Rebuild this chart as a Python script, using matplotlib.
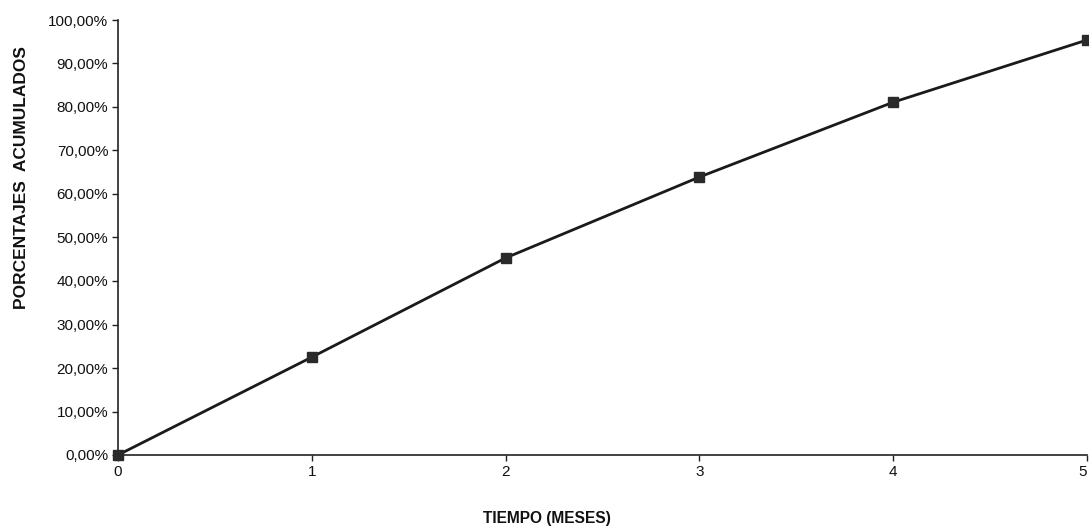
import matplotlib
matplotlib.use("Agg")
import matplotlib.pyplot as plt
from matplotlib.ticker import FuncFormatter

meses = [0, 1, 2, 3, 4, 5]
porcentajes = [0.0, 22.5, 45.3, 63.9, 81.1, 95.4]
y_ticks = [0, 10, 20, 30, 40, 50, 60, 70, 80, 90, 100]
x_ticks = [0, 1, 2, 3, 4, 5]

plt.rcParams['font.family'] = ['Liberation Sans', 'DejaVu Sans']

fig = plt.figure(figsize=(10.89, 5.32), dpi=100)
ax = fig.add_axes([118/1089, 1 - 455/532, (1087 - 118)/1089, (455 - 20)/532])

ax.plot(meses, porcentajes, color='#1a1a1a', lw=2.0, marker='s', ms=7.5,
        mfc='#2a2a2a', mec='#2a2a2a', clip_on=False, zorder=3)

ax.set_xlim(0, 5)
ax.set_ylim(0, 100)
ax.set_xticks(x_ticks)
ax.set_yticks(y_ticks)
ax.yaxis.set_major_formatter(FuncFormatter(lambda v, p: f"{v:.2f}%".replace('.', ',')))

for s in ['top', 'right']:
    ax.spines[s].set_visible(False)
for s in ['left', 'bottom']:
    ax.spines[s].set_linewidth(1.2)
    ax.spines[s].set_color('#222222')

ax.tick_params(axis='both', direction='out', length=4, width=1, colors='#222222',
               labelsize=11, labelcolor='#111111')
ax.tick_params(axis='y', pad=3)
ax.tick_params(axis='x', pad=3)
xlabels = ax.get_xticklabels()
xlabels[-1].set_horizontalalignment('right')

fig.text(547/1089, 1 - 518/532, 'TIEMPO (MESES)', ha='center', va='center',
         fontsize=11.2, fontweight='bold', color='#111111')
fig.text(22/1089, 1 - 178/532, 'PORCENTAJES  ACUMULADOS', ha='center', va='center',
         rotation=90, fontsize=12.5, fontweight='bold', color='#111111')

fig.savefig('out.png', dpi=100, facecolor='white')
